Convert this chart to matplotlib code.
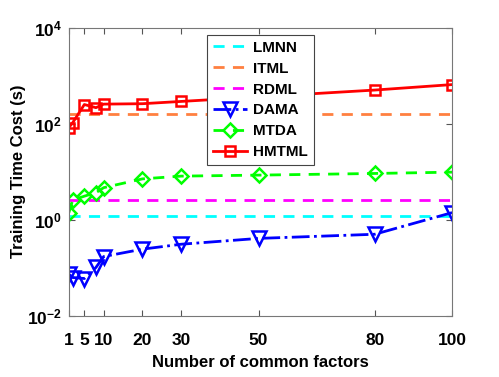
import numpy as np
import matplotlib.pyplot as plt

plt.rcParams['font.family'] = ['Liberation Sans', 'DejaVu Sans']
plt.rcParams['font.weight'] = 'bold'
plt.rcParams['mathtext.default'] = 'bf'

factors = [1, 2, 5, 8, 10, 20, 30, 50, 80, 100]
x_ticks = [1, 5, 10, 20, 30, 50, 80, 100]

lmnn = [1.2] * len(factors)
itml = [160] * len(factors)
rdml = [2.57] * len(factors)
dama = [0.074, 0.063, 0.060, 0.102, 0.172, 0.245, 0.31, 0.41, 0.50, 1.41]
mtda = [1.41, 2.57, 3.1, 3.67, 4.66, 7.1, 8.1, 8.5, 9.2, 9.8]
hmtml = [83, 105, 250, 215, 255, 260, 290, 360, 500, 650]

fig = plt.figure(figsize=(4.99, 3.77), dpi=100)
ax = fig.add_axes([0.138, 0.162, 0.768, 0.765])

ax.plot(factors, lmnn, color='#00ffff', ls=(0, (4, 3)), lw=2, label='LMNN')
ax.plot(factors, itml, color='#ff8040', ls=(0, (4, 3)), lw=2, label='ITML')
ax.plot(factors, rdml, color='#ff00ff', ls=(0, (4, 3)), lw=2, label='RDML')
ax.plot(factors, dama, color='#0000ff', ls='-.', lw=2, marker='v', ms=10,
        mfc='none', mew=1.8, label='DAMA')
ax.plot(factors, mtda, color='#00ff00', ls=(0, (4, 3)), lw=2, marker='D', ms=7.5,
        mfc='none', mew=1.8, label='MTDA')
ax.plot(factors, hmtml, color='#ff0000', ls='-', lw=2, marker='s', ms=7.5,
        mfc='none', mew=1.8, label='HMTML')

ax.set_yscale('log')
ax.set_ylim(1e-2, 1e4)
ax.set_xlim(1, 100)
ax.set_yticks([1e-2, 1e0, 1e2, 1e4])
ax.yaxis.set_minor_locator(plt.NullLocator())
ax.set_xticks(x_ticks)
ax.set_xticklabels([str(v) for v in x_ticks])
ax.tick_params(direction='in', top=True, right=True, labelsize=12.5, length=4,
               color='#555555')
ax.tick_params(axis='x', pad=12.5)
ax.tick_params(axis='y', pad=5)
for s in ax.spines.values():
    s.set_color('#777777')

ax.set_xlabel('Number of common factors', fontsize=12, fontweight='bold', labelpad=4.5)
ax.set_ylabel('Training Time Cost (s)', fontsize=12, fontweight='bold', labelpad=1)

leg = ax.legend(loc='upper left', bbox_to_anchor=(0.36, 0.975), fontsize=11,
                handlelength=2.2, labelspacing=0.45, fancybox=False,
                edgecolor='#444444', framealpha=1, borderpad=0.4,
                handletextpad=0.4, borderaxespad=0)
leg.get_frame().set_linewidth(0.8)

fig.savefig('out.png', dpi=100)
